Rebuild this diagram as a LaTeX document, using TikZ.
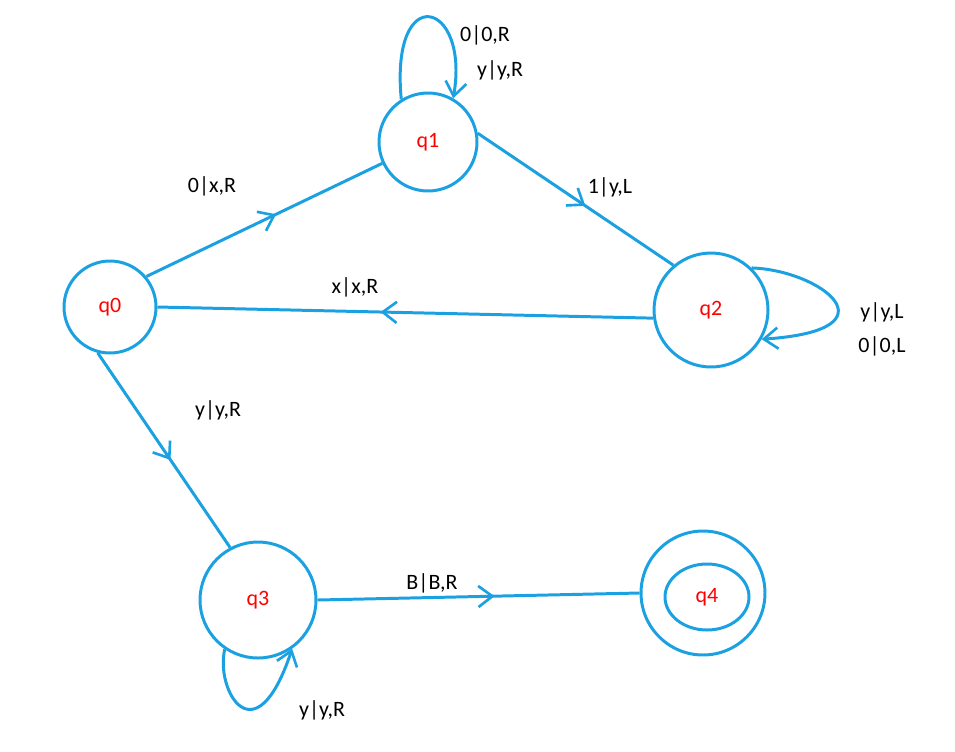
\documentclass[tikz,border=0pt]{standalone}
\usepackage{fontspec}
\setmainfont{Carlito}
\usetikzlibrary{decorations.markings,arrows.meta,shapes.geometric}
\definecolor{ln}{RGB}{27,161,226}
\begin{document}
\begin{tikzpicture}[x=0.02cm,y=-0.02cm,
  st/.style={circle,draw=ln,line width=1.7pt,inner sep=0pt,text=red,font=\fontsize{12.5}{14}\selectfont},
  lb/.style={font=\fontsize{12.5}{14}\selectfont,text=black},
  ed/.style={draw=ln,line width=1.7pt,postaction={decorate},decoration={markings,mark=at position 0.55 with {\arrow{Straight Barb[length=8pt,width=12pt,line width=1.5pt]}}}},
  lp/.style={draw=ln,line width=1.7pt,-{Straight Barb[length=8pt,width=12pt,line width=1.5pt]}}]
\useasboundingbox (0,0) rectangle (955,751);
\node[st,minimum size=1.84cm] (q0) at (110,307) {q0};
\node[st,minimum size=1.96cm] (q1) at (428,142) {q1};
\node[st,minimum size=2.28cm] (q2) at (711,310) {q2};
\node[st,minimum size=2.32cm] (q3) at (258,600) {q3};
\node[st,minimum size=2.48cm] (q4o) at (703,593) {};
\node[st,ellipse,minimum width=1.68cm,minimum height=1.32cm] (q4) at (707,597) {q4};
\draw[ed] (q0.40) -- (q1.205);
\draw[ed] (q1.10) -- (q2.130);
\draw[ed] (q2.188) -- (q0.0);
\draw[ed] (q0.255) -- (q3.118);
\draw[ed] (q3.0) -- (q4o.180);
\draw[lp] (q1.122) .. controls (390,-20) and (470,0) .. (q1.60);
\draw[lp] (q2.46) .. controls (820,270) and (900,330) .. (q2.-30);
\draw[lp] (q3.236) .. controls (215,690) and (255,760) .. (q3.-55);
\node[lb] (l1) at (212,186) {0|x,R};
\node[lb] (l2) at (610,187) {1|y,L};
\node[lb] (l3) at (355,287) {x|x,R};
\node[lb] (l4) at (218,410) {y|y,R};
\node[lb] (l5) at (432,583) {B|B,R};
\node[lb] (l6) at (485,35) {0|0,R};
\node[lb] (l7) at (500,70) {y|y,R};
\node[lb] (l8) at (882,312) {y|y,L};
\node[lb] (l9) at (882,346) {0|0,L};
\node[lb] (l10) at (322,710) {y|y,R};
\end{tikzpicture}
\end{document}
